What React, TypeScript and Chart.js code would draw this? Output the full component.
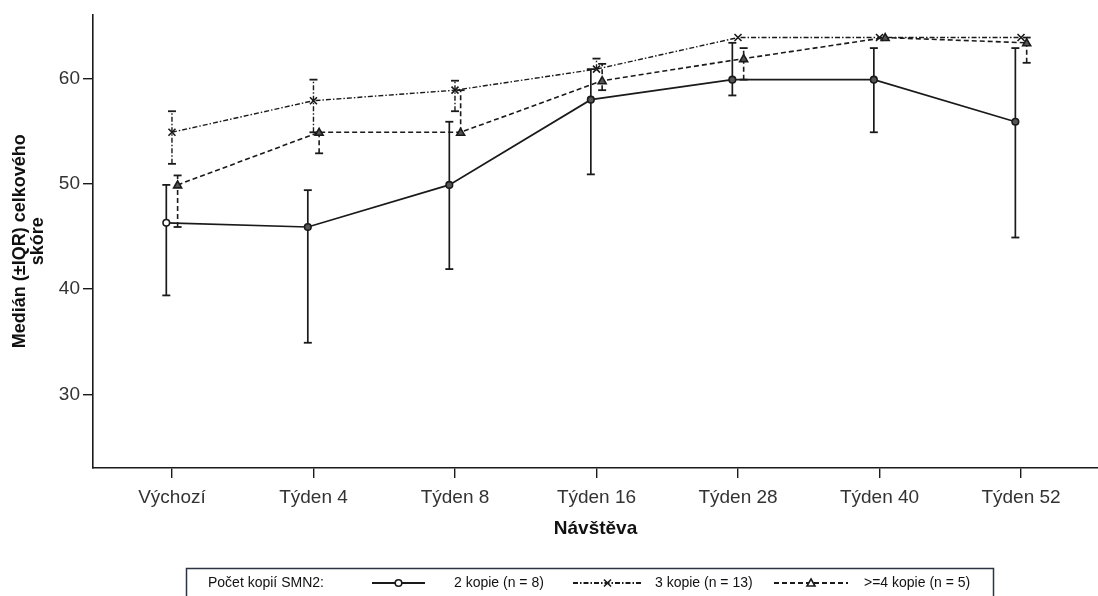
import React, { useEffect, useRef } from "react";
import { Chart, registerables } from "chart.js";

Chart.register(...registerables);

const categories = ["Výchozí", "Týden 4", "Týden 8", "Týden 16", "Týden 28", "Týden 40", "Týden 52"];
const yTickValues = [30, 40, 50, 60];

const kopie2Median = [46.3, 45.9, 49.9, 58.0, 59.9, 59.9, 55.9];
const kopie2Low = [39.4, 34.9, 41.9, 50.9, 58.4, 54.9, 44.9];
const kopie2High = [49.9, 49.4, 55.9, 60.9, 63.4, 62.9, 62.9];

const kopie3Median = [54.9, 57.9, 58.9, 60.9, 63.9, 63.9, 63.9];
const kopie3Low = [51.9, 54.9, 56.9, 60.9, 63.9, 63.9, 63.9];
const kopie3High = [56.9, 59.9, 59.8, 61.9, 63.9, 63.9, 63.9];

const kopie4Median = [49.9, 54.9, 54.9, 59.8, 61.9, 63.9, 63.4];
const kopie4Low = [45.9, 52.9, 54.9, 58.9, 59.9, 63.9, 61.5];
const kopie4High = [50.8, 54.9, 58.9, 61.4, 62.9, 63.9, 63.9];

const legendTitle = "Počet kopií SMN2:";
const seriesLabels = ["2 kopie (n = 8)", "3 kopie (n = 13)", ">=4 kopie (n = 5)"];

const FONT = "Arial, 'Liberation Sans', sans-serif";
const INK = "#1a1a1a";

type Series = {
  label: string;
  med: number[];
  low: number[];
  high: number[];
  dash: number[];
  width: number;
  marker: "circle" | "cross" | "triangle";
  off: number;
};

const series: Series[] = [
  { label: seriesLabels[0], med: kopie2Median, low: kopie2Low, high: kopie2High, dash: [], width: 1.7, marker: "circle", off: -0.04 },
  { label: seriesLabels[1], med: kopie3Median, low: kopie3Low, high: kopie3High, dash: [5, 2, 1.5, 2], width: 1.4, marker: "cross", off: 0 },
  { label: seriesLabels[2], med: kopie4Median, low: kopie4Low, high: kopie4High, dash: [5, 3], width: 1.6, marker: "triangle", off: 0.04 },
];

function drawMarker(ctx: CanvasRenderingContext2D, kind: string, x: number, y: number, fill: string) {
  ctx.save();
  ctx.setLineDash([]);
  ctx.lineWidth = 1.6;
  ctx.strokeStyle = INK;
  ctx.fillStyle = fill;
  ctx.beginPath();
  if (kind === "circle") {
    ctx.arc(x, y, 3.3, 0, Math.PI * 2);
    ctx.fill();
    ctx.stroke();
  } else if (kind === "cross") {
    ctx.moveTo(x - 3.5, y - 3.5);
    ctx.lineTo(x + 3.5, y + 3.5);
    ctx.moveTo(x + 3.5, y - 3.5);
    ctx.lineTo(x - 3.5, y + 3.5);
    ctx.stroke();
  } else {
    ctx.moveTo(x, y - 4);
    ctx.lineTo(x + 4, y + 3);
    ctx.lineTo(x - 4, y + 3);
    ctx.closePath();
    ctx.fill();
    ctx.stroke();
  }
  ctx.restore();
}

export default function App() {
  const ref = useRef<HTMLCanvasElement>(null);

  useEffect(() => {
    document.body.style.margin = "0";
    const canvas = ref.current!;

    const errorBars = {
      id: "errorBars",
      beforeDatasetsDraw(chart: any) {
        const { ctx, scales } = chart;
        const x = scales.x;
        const y = scales.y;
        ctx.save();
        series.forEach((s) => {
          s.med.forEach((m, i) => {
            const lo = s.low[i];
            const hi = s.high[i];
            if (hi - lo < 0.05) return;
            const px = x.getPixelForValue(i + s.off);
            const pl = y.getPixelForValue(lo);
            const ph = y.getPixelForValue(hi);
            ctx.strokeStyle = INK;
            ctx.lineWidth = s.width;
            ctx.setLineDash(s.dash);
            ctx.beginPath();
            ctx.moveTo(px, pl);
            ctx.lineTo(px, ph);
            ctx.stroke();
            ctx.setLineDash([]);
            ctx.lineWidth = 1.8;
            [lo, hi].forEach((v) => {
              if (Math.abs(v - m) < 0.05) return;
              const py = y.getPixelForValue(v);
              ctx.beginPath();
              ctx.moveTo(px - 4, py);
              ctx.lineTo(px + 4, py);
              ctx.stroke();
            });
          });
        });
        ctx.restore();
      },
    };

    const markers = {
      id: "markers",
      afterDatasetsDraw(chart: any) {
        const { ctx, scales } = chart;
        series.forEach((s) => {
          s.med.forEach((m, i) => {
            drawMarker(ctx, s.marker, scales.x.getPixelForValue(i + s.off), scales.y.getPixelForValue(m), i === 0 && s.marker === "circle" ? "#fff" : "#555");
          });
        });
      },
    };

    const legendBox = {
      id: "legendBox",
      afterDraw(chart: any) {
        const ctx: CanvasRenderingContext2D = chart.ctx;
        ctx.save();
        ctx.strokeStyle = "#2b3440";
        ctx.lineWidth = 1.5;
        ctx.strokeRect(186.5, 568.5, 807, 40);
        ctx.font = `14px ${FONT}`;
        ctx.fillStyle = "#111";
        ctx.textBaseline = "middle";
        const ty = 583;
        ctx.fillText(legendTitle, 208, ty);
        const items = [
          { x0: 372, x1: 425, text: 454 },
          { x0: 573, x1: 642, text: 655 },
          { x0: 774, x1: 848, text: 864 },
        ];
        series.forEach((s, k) => {
          const it = items[k];
          ctx.strokeStyle = INK;
          ctx.lineWidth = s.width + 0.4;
          ctx.setLineDash(s.dash);
          ctx.beginPath();
          ctx.moveTo(it.x0, ty);
          ctx.lineTo(it.x1, ty);
          ctx.stroke();
          ctx.setLineDash([]);
          drawMarker(ctx, s.marker, (it.x0 + it.x1) / 2, ty, "#fff");
          ctx.fillStyle = "#111";
          ctx.fillText(s.label, it.text, ty);
        });
        ctx.restore();
      },
    };

    const chart = new Chart(canvas, {
      type: "line",
      data: {
        datasets: series.map((s) => ({
          label: s.label,
          data: s.med.map((v, i) => ({ x: i + s.off, y: v })),
          borderColor: INK,
          borderWidth: s.width,
          borderDash: s.dash,
          pointRadius: 0,
          fill: false,
          tension: 0,
        })),
      },
      options: {
        animation: false,
        responsive: false,
        layout: { padding: { top: 10, right: 0, bottom: 0, left: 0 } },
        plugins: { legend: { display: false }, tooltip: { enabled: false } },
        scales: {
          x: {
            type: "linear",
            min: -0.558,
            max: 6.544,
            afterFit: (scale: any) => {
              scale.height = 128;
            },
            afterBuildTicks: (scale: any) => {
              scale.ticks = categories.map((_, i) => ({ value: i }));
            },
            ticks: {
              callback: (v: any) => categories[Math.round(Number(v))] ?? "",
              font: { family: FONT, size: 19 },
              color: "#333",
              padding: 8,
              maxRotation: 0,
              autoSkip: false,
            },
            grid: { drawOnChartArea: false, drawTicks: true, tickLength: 10, color: INK, lineWidth: 1.4 },
            border: { display: true, color: INK, width: 1.6 },
            title: {
              display: true,
              text: "Návštěva",
              font: { family: FONT, size: 19, weight: "bold" },
              color: "#111",
              padding: { top: 0, bottom: 56 },
            },
          },
          y: {
            type: "linear",
            min: 23,
            max: 66.1,
            afterFit: (scale: any) => {
              scale.width = 93;
            },
            afterBuildTicks: (scale: any) => {
              scale.ticks = yTickValues.map((v) => ({ value: v }));
            },
            ticks: {
              font: { family: FONT, size: 19 },
              color: "#333",
              padding: 3,
            },
            grid: { drawOnChartArea: false, drawTicks: true, tickLength: 10, color: INK, lineWidth: 1.4 },
            border: { display: true, color: INK, width: 1.6 },
            title: {
              display: true,
              text: ["Medián (±IQR) celkového", "skóre"],
              font: { family: FONT, size: 18, weight: "bold", lineHeight: 1.0 },
              color: "#111",
              padding: { top: 11, bottom: 0 },
            },
          },
        },
      },
      plugins: [errorBars, markers, legendBox],
    });

    return () => chart.destroy();
  }, []);

  return (
    <div style={{ position: "absolute", left: 0, top: 0, width: 1098, height: 596, background: "#fff" }}>
      <canvas ref={ref} width={1098} height={596} style={{ width: 1098, height: 596, display: "block" }} />
    </div>
  );
}
